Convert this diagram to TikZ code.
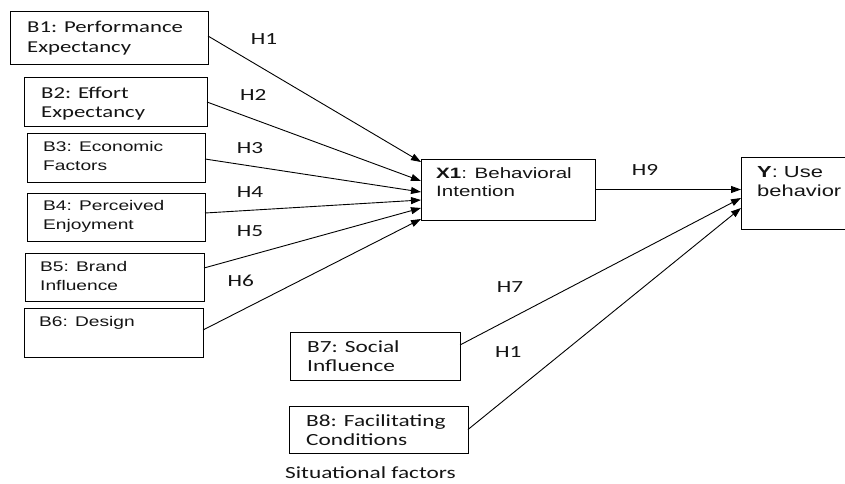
\documentclass[tikz,border=0pt]{standalone}
\usepackage{fontspec}
\usetikzlibrary{arrows.meta}
\newfontfamily\calfont[FakeStretch=1.37]{Carlito}
\newfontfamily\arfont[FakeStretch=1.37]{Liberation Sans}
\newcommand{\tl}[1]{\begin{tabular}[t]{@{}l@{}}#1\end{tabular}}
\begin{document}
\begin{tikzpicture}[x=1pt,y=-1pt,
  box/.style={draw, line width=0.9pt, inner sep=0pt, outer sep=0pt, anchor=north west},
  arr/.style={line width=0.9pt, -{Triangle[length=10pt,width=7pt]}},
  txt/.style={inner sep=0pt, anchor=base west, text=black!92},
  cal/.style={font=\calfont\fontsize{16.6}{19.5}\selectfont},
  calb/.style={font=\calfont\fontsize{17}{19.2}\selectfont},
  ar/.style={font=\arfont\fontsize{14}{18.5}\selectfont},
  arb/.style={font=\arfont\fontsize{15}{18.6}\selectfont},
  ary/.style={font=\arfont\fontsize{16}{19.4}\selectfont},
  hl/.style={inner sep=0pt, anchor=base west, text=black!92, font=\calfont\fontsize{17}{19}\selectfont}]
\useasboundingbox (0,0) rectangle (845,483);
% boxes
\node[box, minimum width=198pt, minimum height=53pt] (b1) at (10,11) {};
\node[box, minimum width=183pt, minimum height=49pt] (b2) at (24,77) {};
\node[box, minimum width=178pt, minimum height=49pt] (b3) at (27,133) {};
\node[box, minimum width=178pt, minimum height=48pt] (b4) at (27,193) {};
\node[box, minimum width=179pt, minimum height=48pt] (b5) at (25,253) {};
\node[box, minimum width=179pt, minimum height=49pt] (b6) at (24,308) {};
\node[box, minimum width=174pt, minimum height=61pt] (x1) at (421,159) {};
\node[box, minimum width=114pt, minimum height=72pt] (y) at (741,157) {};
\node[box, minimum width=170pt, minimum height=48pt] (b7) at (290,332) {};
\node[box, minimum width=179pt, minimum height=47pt] (b8) at (289,406) {};
% box texts
\node[txt, cal] (b1t) at (27,32.7) {\tl{B1: Performance\\Expectancy}};
\node[txt, cal] (b2t) at (41,98.3) {\tl{B2: Effort\\Expectancy}};
\node[txt, ar] (b3t) at (43,151.7) {\tl{B3: Economic\\Factors}};
\node[txt, ar] (b4t) at (43,210.7) {\tl{B4: Perceived\\Enjoyment}};
\node[txt, ar] (b5t) at (40,271.7) {\tl{B5: Brand\\Influence}};
\node[txt, ar] (b6t) at (39,326.7) {B6: Design};
\node[txt, arb] (x1t) at (436,178.3) {\tl{\textbf{X1}: Behavioral\\Intention}};
\node[txt, ary] (yt) at (757,177.3) {\tl{\textbf{Y}: Use\\behavior}};
\node[txt, calb] (b7t) at (307,352.7) {\tl{B7: Social\\Influence}};
\node[txt, calb] (b8t) at (306,426.7) {\tl{B8: Facilitating\\Conditions}};
\node[hl] (sit) at (285,478.3) {Situational factors};
% connectors
\draw[arr] ([yshift=1.5pt]b1.east) -- ([yshift=27.5pt]x1.west);
\draw[arr] ([yshift=-0.5pt]b2.east) -- ([yshift=8.5pt]x1.west);
\draw[arr] ([yshift=-1.5pt]b3.east) -- ([yshift=-2.5pt]x1.west);
\draw[arr] ([yshift=4pt]b4.east) -- ([yshift=-10.5pt]x1.west);
\draw[arr] ([yshift=9pt]b5.east) -- ([yshift=-18.5pt]x1.west);
\draw[arr] ([yshift=2.5pt]b6.east) -- ([yshift=-29.5pt]x1.west);
\draw[arr] (x1.east) -- ([yshift=3.5pt]y.west);
\draw[arr] ([yshift=11pt]b7.east) -- ([yshift=-5pt]y.west);
\draw[arr] ([yshift=0pt]b8.east) -- ([yshift=-15pt]y.west);
% hypothesis labels
\node[hl] (h1) at (250.7,44) {H1};
\node[hl] (h2) at (240,100) {H2};
\node[hl] (h3) at (236.7,153.3) {H3};
\node[hl] (h4) at (236.7,197.3) {H4};
\node[hl] (h5) at (236.7,236.7) {H5};
\node[hl] (h6) at (227.3,286.7) {H6};
\node[hl] (h9) at (631.7,175) {H9};
\node[hl] (h7) at (496.7,292.3) {H7};
\node[hl] (h1b) at (495,357.3) {H1};
\end{tikzpicture}
\end{document}
